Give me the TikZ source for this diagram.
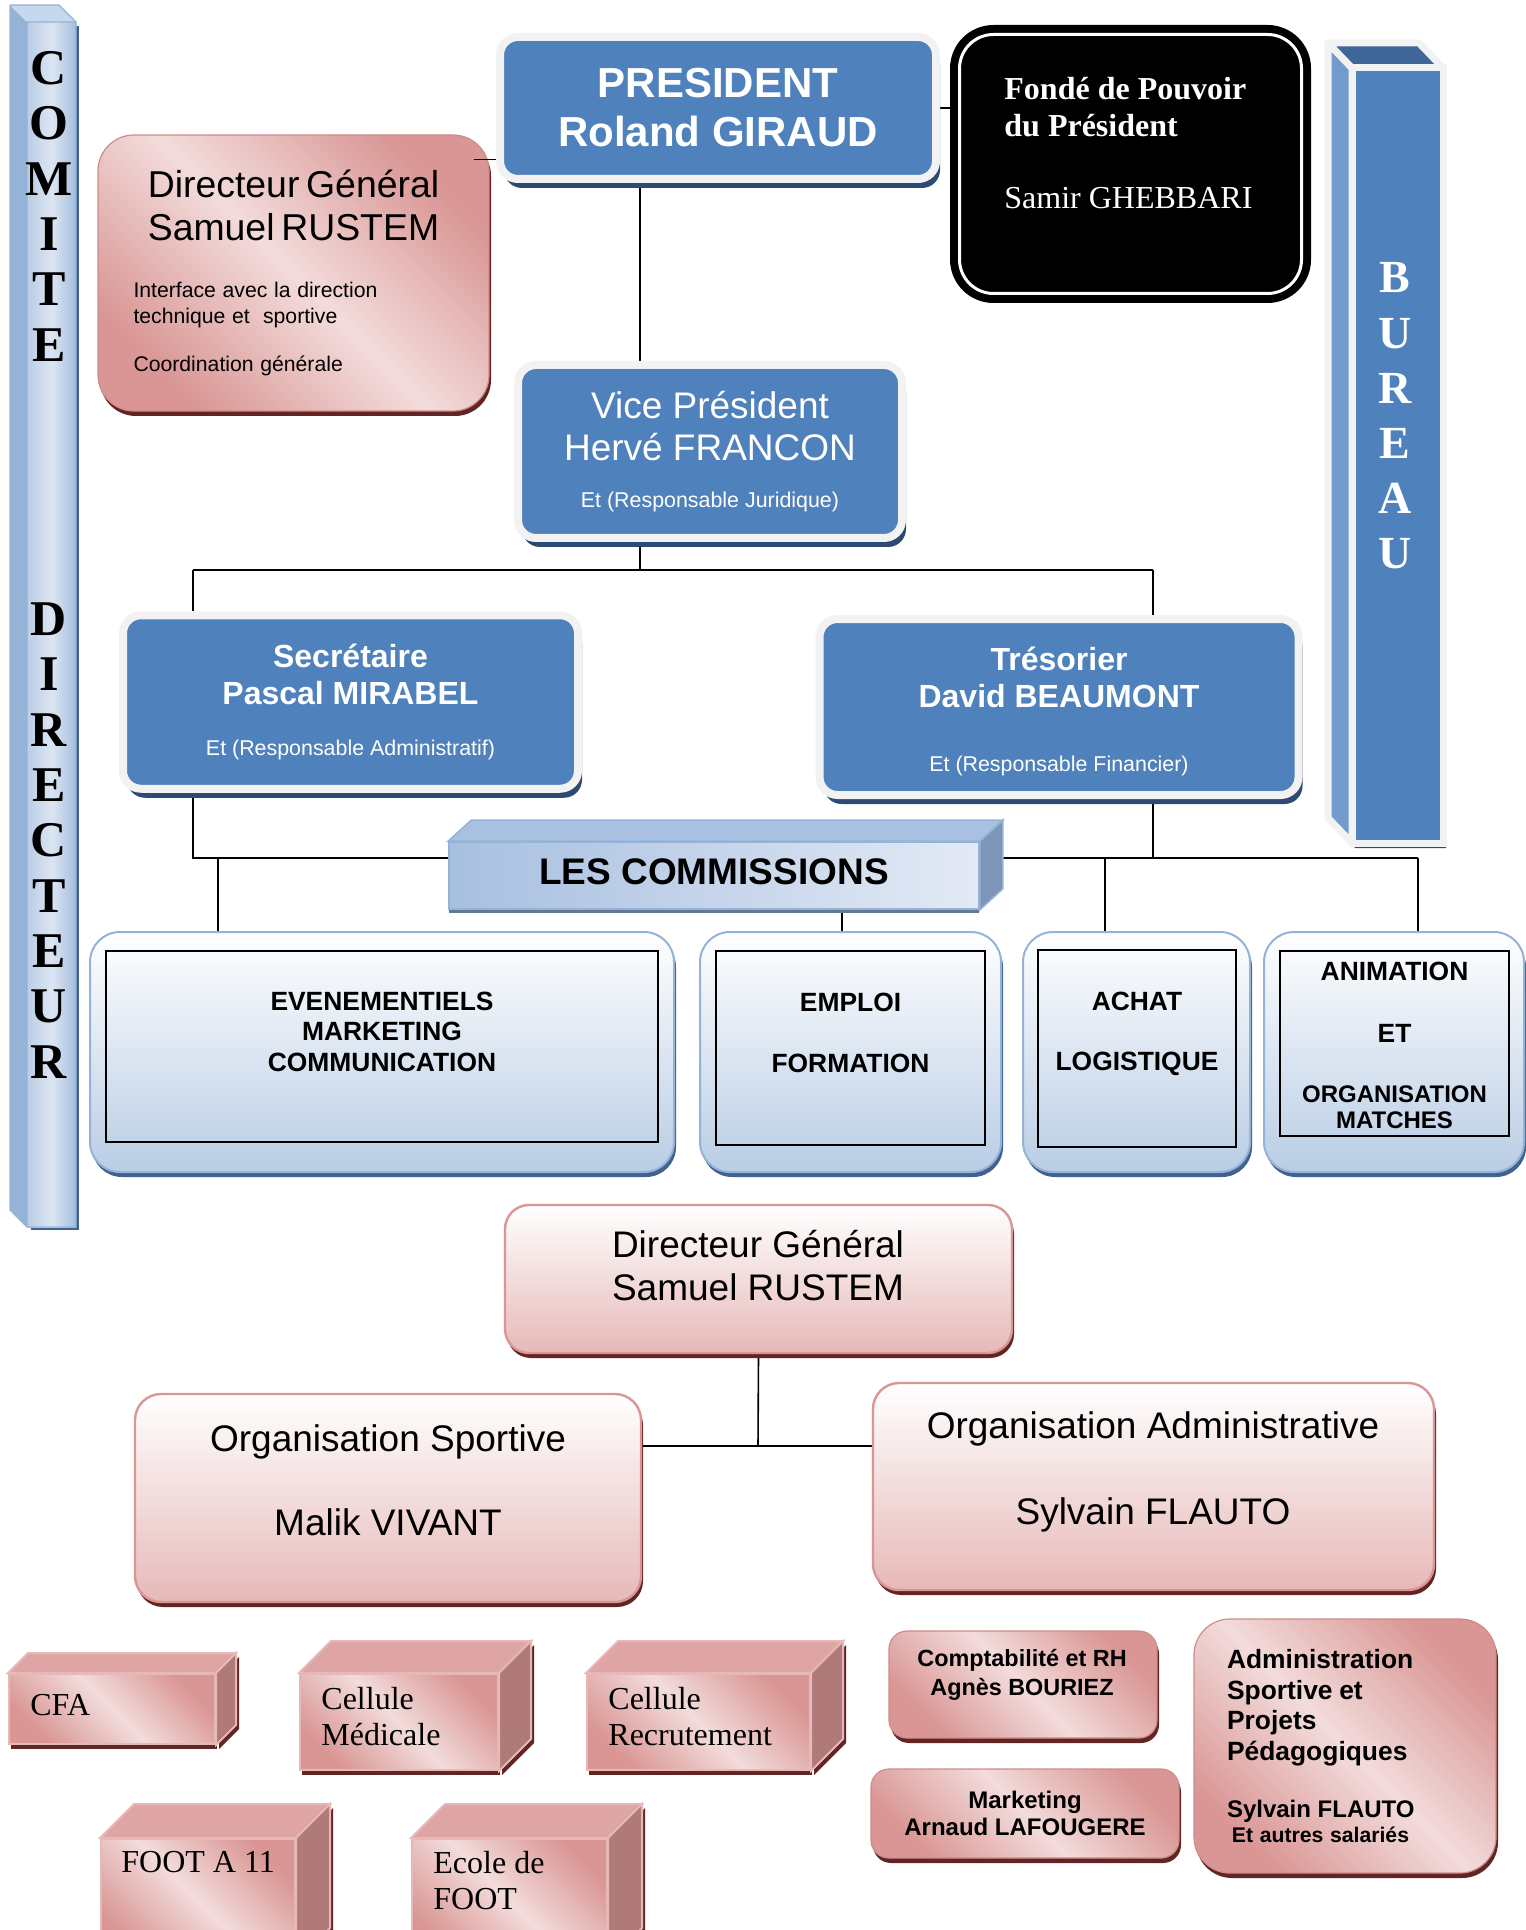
\documentclass[tikz,border=0pt]{standalone}
\usepackage{fontspec}
\setmainfont{Liberation Serif}
\setsansfont{Liberation Sans}
\usetikzlibrary{shadows,backgrounds}
\setlength{\parindent}{0pt}
\definecolor{boxblue}{HTML}{4F81BD}
\definecolor{framegray}{HTML}{F2F2F2}
\definecolor{shadowblue}{HTML}{2C4A72}
\definecolor{pinkdark}{HTML}{D99694}
\definecolor{pinklight}{HTML}{F2DCDB}
\definecolor{pinkbottom}{HTML}{E6B9B8}
\definecolor{pinkedge}{HTML}{CD8C8A}
\definecolor{shadowred}{HTML}{632523}
\definecolor{cubetopc}{HTML}{DFA5A4}
\definecolor{cubesidec}{HTML}{B07A79}
\definecolor{combottom}{HTML}{B9CDE5}
\definecolor{comedge}{HTML}{95B3D7}
\definecolor{comshadow}{HTML}{41618F}
\definecolor{lesleft}{HTML}{A7BFE0}
\definecolor{lesright}{HTML}{E3EAF5}
\definecolor{lestopc}{HTML}{A9C1E1}
\definecolor{lessidec}{HTML}{7D95B8}
\definecolor{pilside}{HTML}{95B3D7}
\definecolor{pilleft}{HTML}{B9CDE5}
\definecolor{pilmid}{HTML}{DCE6F2}
\definecolor{pilright}{HTML}{A5BEDE}
\definecolor{piltop}{HTML}{C6D8EE}
\definecolor{buside}{HTML}{729ACA}
\definecolor{butop}{HTML}{3F6699}

\begin{document}
\begin{tikzpicture}[
    x=0.5pt, y=-0.5pt,
    link/.style={line width=0.8pt},
    bluebox/.style={draw=framegray, line width=4pt, fill=boxblue, rounded corners=9pt,
      inner sep=0pt, align=center, text=white,
      drop shadow={shadow xshift=2pt, shadow yshift=-4.5pt, fill=shadowblue, opacity=1}},
    pinkdiag/.style={draw=pinkedge, line width=0.6pt, top color=pinkdark, bottom color=pinkdark,
      middle color=pinklight, shading angle=-45, inner sep=0pt,
      drop shadow={shadow xshift=1pt, shadow yshift=-2.5pt, fill=shadowred, opacity=1}},
    pinkvert/.style={draw=pinkdark, line width=1.2pt, top color=white, bottom color=pinkbottom,
      rounded corners=12pt, inner sep=0pt,
      drop shadow={shadow xshift=1pt, shadow yshift=-2.5pt, fill=shadowred, opacity=1}},
    combox/.style={draw=comedge, line width=1pt, top color=white, bottom color=combottom,
      rounded corners=15pt, inner sep=0pt,
      drop shadow={shadow xshift=1pt, shadow yshift=-2.5pt, fill=comshadow, opacity=1}},
    cominner/.style={draw=black, line width=1.2pt, inner sep=0pt},
    comtext/.style={align=center, inner sep=0pt, font=\sffamily\bfseries\fontsize{13.2}{15.25}\selectfont},
    orgtext/.style={align=center, inner sep=0pt, font=\sffamily\fontsize{18.5}{21.5}\selectfont},
    cubefront/.style={pinkdiag, draw=pinkbottom, line width=1pt},
    cubetext/.style={anchor=west, align=left, inner sep=0pt, font=\fontsize{16}{18}\selectfont},
    pillarletter/.style={inner sep=0pt, font=\bfseries\fontsize{25}{25}\selectfont},
  ]
  \useasboundingbox (0,0) rectangle (1525,1930);

  % COMITE DIRECTEUR pillar
  \fill[comshadow] (31,26) rectangle (79,1230);
  \fill[pilside] (10,5) -- (27,22) -- (27,1227) -- (10,1210) -- cycle;
  \shade[left color=pilleft, right color=pilright, middle color=pilmid] (27,22) rectangle (76,1227);
  \fill[piltop] (10,5) -- (59,5) -- (76,22) -- (27,22) -- cycle;
  \draw[comedge, line width=0.6pt] (10,5) -- (59,5) -- (76,22) -- (76,1227) -- (27,1227) -- (10,1210) -- cycle
    (27,22) -- (76,22) (27,22) -- (27,1227);
  \foreach \l [count=\i] in {C,O,M,I,T,E}
    \node[pillarletter] (cl\i) at (49,{68+55.4*(\i-1)}) {\l};
  \foreach \l [count=\i] in {D,I,R,E,C,T,E,U,R}
    \node[pillarletter] (dl\i) at (49,{619+55.4*(\i-1)}) {\l};

  % BUREAU pillar
  \fill[shadowblue] (1331,49) -- (1422,49) -- (1446,73) -- (1446,848) -- (1355,848) -- (1331,824) -- cycle;
  \filldraw[fill=buside, draw=framegray, line width=3.5pt, line join=round]
    (1352,68) -- (1328,43) -- (1328,818) -- (1352,843) -- cycle;
  \filldraw[fill=butop, draw=framegray, line width=3.5pt, line join=round]
    (1352,68) -- (1328,43) -- (1419,43) -- (1443,68) -- cycle;
  \filldraw[fill=boxblue, draw=framegray, line width=3.5pt] (1352,68) rectangle (1443,843);
  \foreach \l [count=\i] in {B,U,R,E,A,U}
    \node[pillarletter, text=white, font=\bfseries\fontsize{23}{23}\selectfont] (bl\i) at (1395,{278+55.2*(\i-1)}) {\l};

  % bureau
  \node[bluebox, minimum width=218pt, minimum height=71pt,
    font=\sffamily\bfseries\fontsize{21}{24.5}\selectfont] (pres) at (718,108) {PRESIDENT\\Roland GIRAUD};
  \node[draw=black, line width=4pt, double=white, double distance=1.5pt, fill=black,
    rounded corners=17pt, minimum width=171pt, minimum height=129.5pt, inner sep=0pt] (fonde) at (1130.5,164) {};
  \node[text=white, align=left, anchor=north west, inner sep=0pt, font=\fontsize{16}{18.5}\selectfont]
    (fondetxt) at (1004,77) {\textbf{Fondé de Pouvoir}\\\textbf{du Président}\\[17.5pt]Samir GHEBBARI};
  \node[pinkdiag, rounded corners=18pt, minimum width=195.5pt, minimum height=138pt,
    text width=160pt, align=left, font=\sffamily] (dgtop) at (293.5,273) {%
    {\fontsize{18.7}{21.5}\selectfont\centering Directeur Général\\Samuel RUSTEM\par}
    \vspace{15.6pt}
    {\fontsize{10.6}{13}\selectfont Interface avec la direction\\technique et~ sportive\par}
    \vspace{11pt}
    {\fontsize{10.6}{13}\selectfont Coordination générale\par}};
  \node[bluebox, minimum width=192pt, minimum height=86.5pt,
    font=\sffamily\fontsize{18.5}{21}\selectfont] (vp) at (710,451.5)
    {Vice Président\\Hervé FRANCON\\[2.8pt]{\fontsize{10.7}{12.8}\selectfont Et (Responsable Juridique)}};
  \node[bluebox, minimum width=227.5pt, minimum height=86.75pt,
    font=\sffamily\bfseries\fontsize{16}{18.5}\selectfont] (sec) at (350.5,702)
    {Secrétaire\\Pascal MIRABEL\\[7.3pt]{\mdseries\fontsize{10.7}{12.8}\selectfont Et (Responsable Administratif)}};
  \node[bluebox, minimum width=239.5pt, minimum height=88pt] (tres) at (1059,707) {};
  \node[align=center, inner sep=0pt, text=white, font=\sffamily\bfseries\fontsize{16}{18.5}\selectfont]
    (trestxt) at (1059,711) {Trésorier\\David BEAUMONT\\[13.5pt]{\mdseries\fontsize{10.7}{12.8}\selectfont Et (Responsable Financier)}};

  % les commissions
  \node[left color=lesleft, right color=lesright, draw=comedge, line width=0.8pt, inner sep=0pt,
    minimum width=265pt, minimum height=33.5pt, text depth=4pt,
    drop shadow={shadow xshift=0pt, shadow yshift=-2pt, fill=lessidec!80!black, opacity=1},
    font=\sffamily\bfseries\fontsize{18.5}{21}\selectfont] (com) at (714,875.5) {LES COMMISSIONS};
  \filldraw[fill=lestopc, draw=comedge, line width=0.8pt] (com.north west) -- ++(23,-21)
    -- ([shift={(23,-21)}]com.north east) -- (com.north east) -- cycle;
  \filldraw[fill=lessidec, draw=comedge, line width=0.8pt] (com.north east) -- ++(23,-21)
    -- ([shift={(23,-21)}]com.south east) -- (com.south east) -- cycle;

  \node[combox, minimum width=292pt, minimum height=120pt] (even) at (382,1052) {};
  \node[cominner, minimum width=276pt, minimum height=95.5pt] (evenin) at (382,1046.5) {};
  \node[comtext] (eventxt) at (382,1031.5) {EVENEMENTIELS\\MARKETING\\COMMUNICATION};
  \node[combox, minimum width=150.5pt, minimum height=120pt] (emploi) at (850.5,1052) {};
  \node[cominner, minimum width=134.5pt, minimum height=97pt] (emploiin) at (850.5,1048) {};
  \node[comtext] (emploitxt) at (850.5,1032.5) {EMPLOI\\[15.25pt]FORMATION};
  \node[combox, minimum width=113.5pt, minimum height=120pt] (achat) at (1136.5,1052) {};
  \node[cominner, minimum width=99pt, minimum height=98.5pt] (achatin) at (1137,1048.5) {};
  \node[comtext] (achattxt) at (1137,1033.5) {ACHAT\\[14.75pt]LOGISTIQUE};
  \node[combox, minimum width=130pt, minimum height=120pt] (anim) at (1394,1052) {};
  \node[cominner, minimum width=114.5pt, minimum height=92.5pt] (animin) at (1394.5,1043.5) {};
  \node[comtext, font=\sffamily\bfseries\fontsize{12}{13}\selectfont] (animtxt) at (1394.5,1045)
    {{\fontsize{13.2}{13}\selectfont ANIMATION}\\[18pt]{\fontsize{13.2}{13}\selectfont ET}\\[17pt]ORGANISATION\\MATCHES};

  % direction
  \node[pinkvert, minimum width=253.5pt, minimum height=74pt] (dg2) at (758.5,1279) {};
  \node[orgtext] (dg2txt) at (758,1265.5) {Directeur Général\\Samuel RUSTEM};
  \node[pinkvert, rounded corners=13pt, minimum width=253pt, minimum height=104pt] (orgs) at (388,1498) {};
  \node[orgtext] (orgstxt) at (388,1480) {Organisation Sportive\\[20.5pt]Malik VIVANT};
  \node[pinkvert, rounded corners=13pt, minimum width=280.5pt, minimum height=103.5pt] (orga) at (1153.5,1486.5) {};
  \node[orgtext] (orgatxt) at (1153,1471.5) {Organisation Administrative\\[21.5pt]Sylvain FLAUTO};

  \node[pinkdiag, rounded corners=9pt, minimum width=134pt, minimum height=53.5pt] (compta) at (1023,1684.5) {};
  \node[align=center, inner sep=0pt, font=\sffamily\bfseries\fontsize{11.7}{14.5}\selectfont]
    (comptatxt) at (1022,1675) {Comptabilité et RH\\Agnès BOURIEZ};
  \node[pinkdiag, rounded corners=9pt, minimum width=154pt, minimum height=44.5pt, align=center,
    font=\sffamily\bfseries\fontsize{12}{13.5}\selectfont] (mkt) at (1025,1813.5) {Marketing\\Arnaud LAFOUGERE};
  \node[pinkdiag, rounded corners=18pt, minimum width=151pt, minimum height=127pt,
    text width=118pt, align=left, font=\sffamily\bfseries] (admin) at (1345,1746) {%
    {\fontsize{13.2}{15.3}\selectfont Administration\\Sportive et\\Projets\\Pédagogiques\par}
    \vspace{16pt}
    {\fontsize{12}{12.5}\selectfont Sylvain FLAUTO\par}
    {\fontsize{10.6}{12.5}\selectfont\makebox[93.5pt][c]{Et autres salariés}\par}};

  % cellules
  \node[cubefront, minimum width=103pt, minimum height=35pt] (cfa) at (112,1709) {};
  \node[cubefront, minimum width=99pt, minimum height=48pt] (medic) at (399,1722) {};
  \node[cubefront, minimum width=111.5pt, minimum height=48pt] (recru) at (698.5,1722) {};
  \node[cubefront, minimum width=97pt, minimum height=61pt] (foot) at (198,1900) {};
  \node[cubefront, minimum width=97.5pt, minimum height=61pt] (ecole) at (509.5,1900) {};
  \foreach \n/\d in {cfa/20, medic/32, recru/32, foot/34, ecole/34} {
    \fill[shadowred] ([shift={(3,4)}]\n.north east) -- ++(\d,-\d)
      -- ([shift={(\d+3,4-\d)}]\n.south east) -- ([shift={(3,4)}]\n.south east) -- cycle;
    \filldraw[fill=cubetopc, draw=pinkbottom, line width=1pt] (\n.north west) -- ++(\d,-\d)
      -- ([shift={(\d,-\d)}]\n.north east) -- (\n.north east) -- cycle;
    \filldraw[fill=cubesidec, draw=pinkbottom, line width=1pt] (\n.north east) -- ++(\d,-\d)
      -- ([shift={(\d,-\d)}]\n.south east) -- (\n.south east) -- cycle;
  }
  \node[cubetext] (cfatxt) at (30,1705) {CFA};
  \node[cubetext] (medictxt) at (321,1717) {Cellule\\Médicale};
  \node[cubetext] (recrutxt) at (608,1717) {Cellule\\Recrutement};
  \node[cubetext] (foottxt) at (121,1862) {FOOT A 11};
  \node[cubetext] (ecoletxt) at (433,1880.5) {Ecole de\\FOOT};

  % connectors
  \coordinate (vpjoin) at (640,570);
  \coordinate (barw) at (193,570);
  \coordinate (bare) at (1153,570);
  \coordinate (busw) at (193,858);
  \coordinate (buse) at (1418,858);
  \coordinate (evendrop) at (218,858);
  \coordinate (emploidrop) at (842,858);
  \coordinate (achatdrop) at (1105,858);
  \coordinate (orgjoin) at (758,1446);
  \draw[link] ([xshift=-8pt,yshift=-12.5pt]dgtop.north east) -- ([yshift=-12.5pt]dgtop.north east -| pres.west);
  \begin{pgfonlayer}{background}
    \draw[link] (pres.east) -- (pres.east -| fonde.west);
    \draw[link] (pres.south -| vpjoin) -- (vp.north -| vpjoin);
    \draw[link] (vp.south -| vpjoin) -- (vpjoin);
    \draw[link] (barw) -- (bare);
    \draw[link] (barw) -- (barw |- sec.north);
    \draw[link] (bare) -- (bare |- tres.north);
    \draw[link] (sec.south -| busw) -- (busw) -- (busw -| com.west);
    \draw[link] (tres.south -| bare) -- (bare |- busw);
    \draw[link] (com.east |- buse) -- (buse);
    \draw[link] (evendrop) -- (evendrop |- even.north);
    \draw[link] (com.south -| emploidrop) -- (emploidrop |- emploi.north);
    \draw[link] (achatdrop) -- (achatdrop |- achat.north);
    \draw[link] (buse) -- (buse |- anim.north);
    \draw[link] (dg2.south) -- (orgjoin);
    \draw[line width=1.2pt] (orgs.east |- orgjoin) -- (orga.west |- orgjoin);
  \end{pgfonlayer}
\end{tikzpicture}
\end{document}
